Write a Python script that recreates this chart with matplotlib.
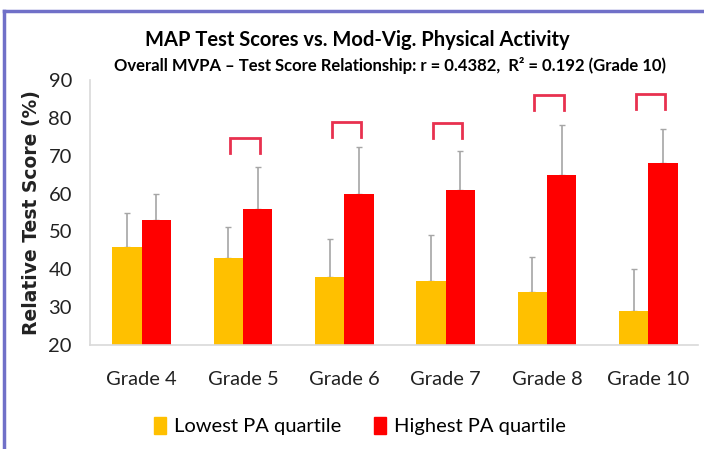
import numpy as np
import matplotlib
matplotlib.use("Agg")
import matplotlib.pyplot as plt
from matplotlib.patches import Patch

grades = ["Grade 4", "Grade 5", "Grade 6", "Grade 7", "Grade 8", "Grade 10"]
lowest = [46, 43, 38, 37, 34, 29]
highest = [53, 56, 60, 61, 65, 68]
lowest_err = [9, 8.2, 10, 12, 9.2, 11]
highest_err = [7, 11, 12.4, 10.3, 13.2, 9]
# top of the significance bracket above each group (None = no bracket)
bracket_top = [None, 74.6, 79.0, 78.6, 86.0, 86.3]

soft = "Lato"

fig = plt.figure(figsize=(7.04, 4.49), dpi=100)
ax = fig.add_axes([90 / 704, 1 - 345 / 449, 608 / 704, 265 / 449])

x = np.arange(len(grades))
w = 0.29
c_low = "#ffc000"
c_high = "#ff0000"

ax.bar(x - w / 2, lowest, w, color=c_low, zorder=2)
ax.bar(x + w / 2, highest, w, color=c_high, zorder=2)
ax.errorbar(x - w / 2, lowest, yerr=[np.zeros(len(x)), lowest_err], fmt="none",
            ecolor="#a6a6a6", elinewidth=1.2, capsize=2.5, zorder=1)
ax.errorbar(x + w / 2, highest, yerr=[np.zeros(len(x)), highest_err], fmt="none",
            ecolor="#a6a6a6", elinewidth=1.2, capsize=2.5, zorder=1)

for i, top in enumerate(bracket_top):
    if top is None:
        continue
    xl = x[i] - w / 2 + 0.02
    xr = x[i] + w / 2 + 0.02
    ax.plot([xl, xl, xr, xr], [top - 4, top, top, top - 4],
            color="#e8314f", lw=2, solid_joinstyle="miter")

ax.set_ylim(20, 90)
ax.set_xlim(-0.51, 5.49)
ax.set_yticks(range(20, 91, 10))
ax.set_xticks(x)
ax.set_xticklabels(grades, fontsize=14.5, family=soft, color="#222222")
for t in ax.get_yticklabels():
    t.set_fontsize(14.5)
    t.set_family(soft)
    t.set_color("#222222")
ax.tick_params(length=0)
ax.tick_params(axis="y", pad=13)
ax.tick_params(axis="x", pad=19)
for s in ["top", "right"]:
    ax.spines[s].set_visible(False)
for s in ["left", "bottom"]:
    ax.spines[s].set_color("#d9d9d9")
    ax.spines[s].set_linewidth(1.2)

ax.set_ylabel("Relative Test Score (%)", fontsize=13.5, fontweight="bold",
              family="DejaVu Sans", color="#222222")
ax.yaxis.set_label_coords(-0.08, 0.5)

fig.text(357 / 704, 1 - 40 / 449, "MAP Test Scores vs. Mod-Vig. Physical Activity",
         ha="center", va="center", fontsize=14.5, fontweight="bold", family=soft)
fig.text(390 / 704, 1 - 65 / 449,
         "Overall MVPA \u2013 Test Score Relationship: r = 0.4382,  R\u00b2 = 0.192 (Grade 10)",
         ha="center", va="center", fontsize=12, fontweight="bold", family=soft)

handles = [Patch(color=c_low), Patch(color=c_high)]
fig.legend(handles, ["Lowest PA quartile", "Highest PA quartile"], loc="center",
           bbox_to_anchor=(360 / 704, 1 - 426 / 449), ncol=2, frameon=False,
           prop={"family": soft, "size": 14.5}, handlelength=0.6, handleheight=0.9,
           handletextpad=0.4, columnspacing=1.6)

# border lines of the original slide
fig.add_artist(plt.Line2D([4 / 704, 1], [1 - 11 / 449] * 2, color="#7070c8", lw=2.5))
fig.add_artist(plt.Line2D([4 / 704] * 2, [0, 1 - 11 / 449], color="#7070c8", lw=2.5))

fig.savefig("out.png", dpi=100)
